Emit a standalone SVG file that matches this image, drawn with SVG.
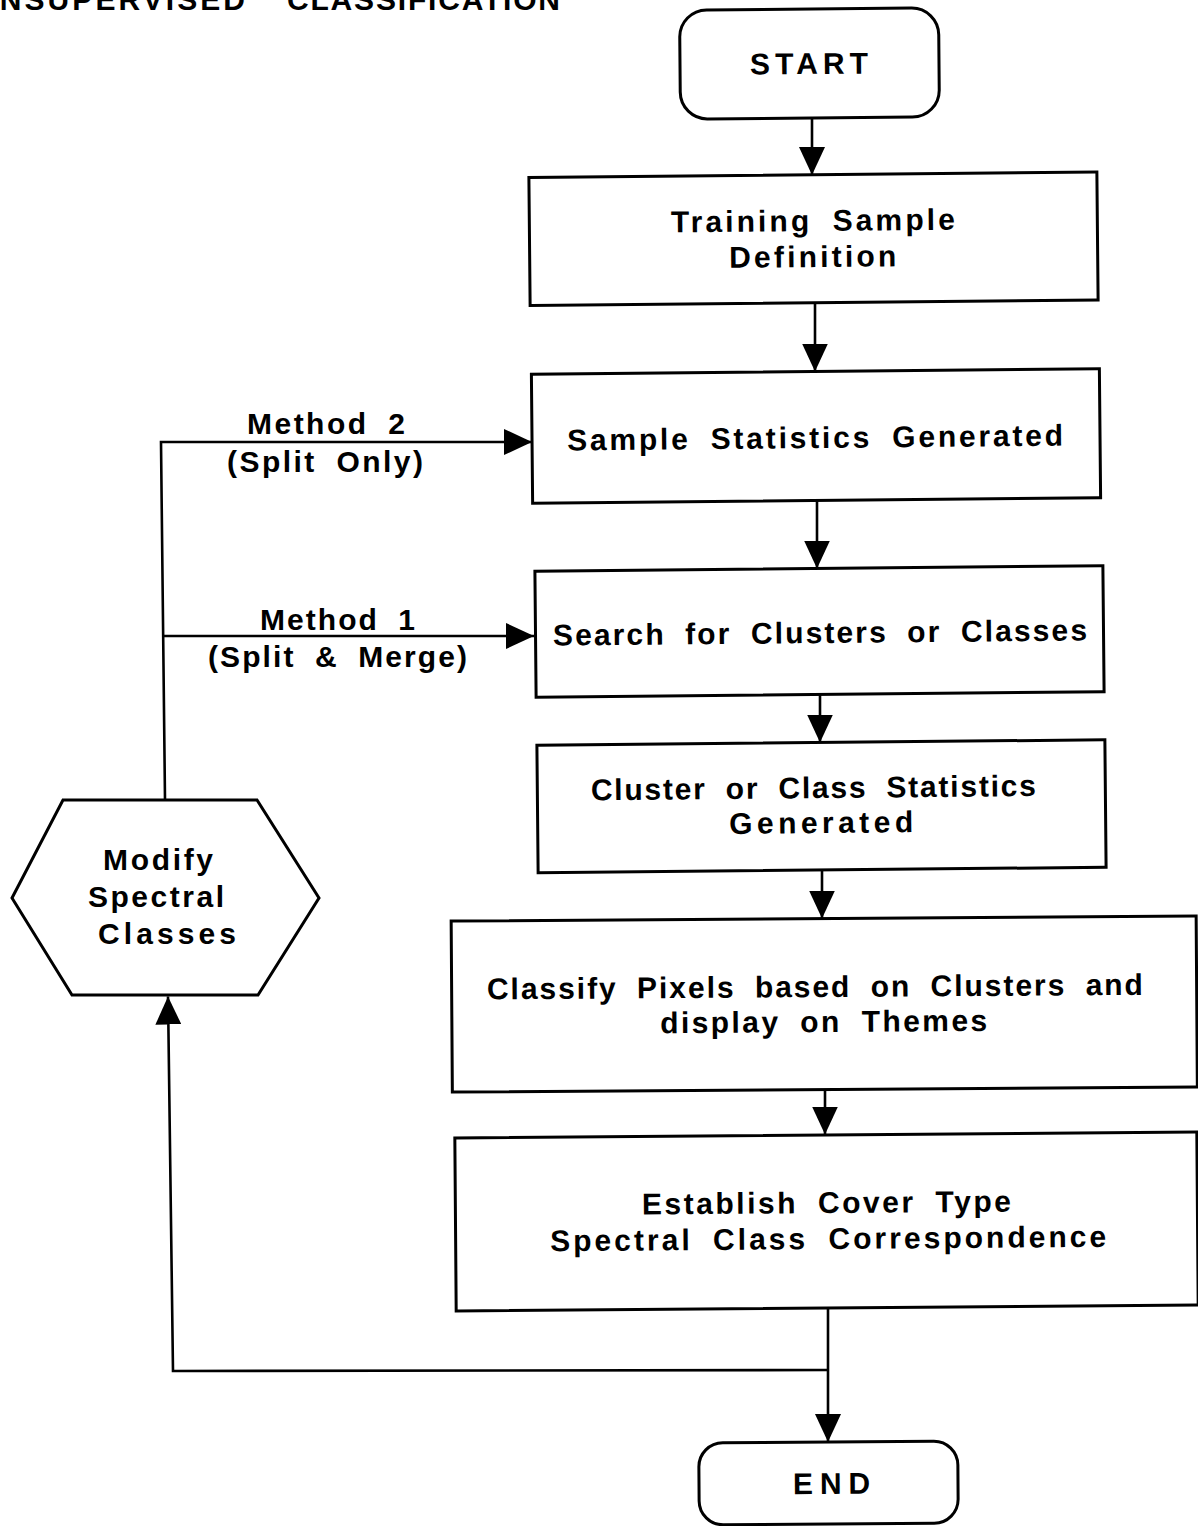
<svg xmlns="http://www.w3.org/2000/svg" width="1198" height="1526" viewBox="0 0 1198 1526">
  <style>
    .box { fill: #fff; stroke: #000; stroke-width: 3; }
    .wire { fill: none; stroke: #000; stroke-width: 2.6; stroke-linejoin: miter; }
    text { font-family: "Liberation Sans", Arial, Helvetica, sans-serif; font-weight: bold; font-size: 30px; fill: #000; word-spacing: 9px; }
  </style>
  <defs>
    <marker id="arrow" markerUnits="userSpaceOnUse" markerWidth="28" markerHeight="26" refX="28" refY="13" orient="auto" viewBox="0 0 28 26">
      <path d="M0,0 L28,13 L0,26 Z" fill="#000"/>
    </marker>
  </defs>

  <rect width="1198" height="1526" fill="#fff"/>

  <!-- page heading, running off the top edge -->
  <g id="heading">
    <text x="-25" y="10" textLength="270" lengthAdjust="spacing">UNSUPERVISED</text>
    <text x="287" y="10" textLength="273" lengthAdjust="spacing">CLASSIFICATION</text>
  </g>

  <!-- connectors -->
  <g id="connectors" class="wire">
    <path d="M812,118 L812,175" marker-end="url(#arrow)"/>
    <path d="M815,302 L815,371.5" marker-end="url(#arrow)"/>
    <path d="M817,499 L817,568.5" marker-end="url(#arrow)"/>
    <path d="M820,694 L820,742.5" marker-end="url(#arrow)"/>
    <path d="M822,869 L822,918.5" marker-end="url(#arrow)"/>
    <path d="M825,1089 L825,1134.5" marker-end="url(#arrow)"/>
    <path d="M828,1307 L828,1442" marker-end="url(#arrow)"/>
    <!-- feedback loop back to the hexagon -->
    <path d="M828,1370 L173,1371 L168,996.5" marker-end="url(#arrow)"/>
    <!-- Method 2 branch -->
    <path d="M165,800 L161,442 L532,442" marker-end="url(#arrow)"/>
    <!-- Method 1 branch -->
    <path d="M163,636 L534,636" marker-end="url(#arrow)"/>
  </g>

  <!-- labels on the method branches -->
  <g id="method-labels">
    <text x="247" y="434" textLength="158" lengthAdjust="spacing">Method 2</text>
    <text x="227" y="472" textLength="196" lengthAdjust="spacing">(Split Only)</text>
    <text x="260" y="630" textLength="155" lengthAdjust="spacing">Method 1</text>
    <text x="208" y="667" textLength="259" lengthAdjust="spacing">(Split &amp; Merge)</text>
  </g>

  <g id="start" transform="rotate(-0.5 809.5 63.5)">
    <rect class="box" x="680" y="9" width="259" height="109" rx="27"/>
    <text x="750" y="74" textLength="118" lengthAdjust="spacing">START</text>
  </g>

  <g id="training-sample" transform="rotate(-0.55 813.5 238.75)">
    <rect class="box" x="529.5" y="174.75" width="568" height="128"/>
    <text x="671" y="231" textLength="284" lengthAdjust="spacing">Training Sample</text>
    <text x="729" y="267" textLength="167" lengthAdjust="spacing">Definition</text>
  </g>

  <g id="sample-statistics" transform="rotate(-0.55 816 435.75)">
    <rect class="box" x="532" y="371.5" width="568" height="129"/>
    <text x="567" y="448" textLength="496" lengthAdjust="spacing">Sample Statistics Generated</text>
  </g>

  <g id="cluster-search" transform="rotate(-0.55 819.5 631.5)">
    <rect class="box" x="535.5" y="568.5" width="568" height="126"/>
    <text x="553" y="643" textLength="534" lengthAdjust="spacing">Search for Clusters or Classes</text>
  </g>

  <g id="cluster-statistics" transform="rotate(-0.55 821.5 806.25)">
    <rect class="box" x="537.5" y="742.5" width="568" height="127.5"/>
    <text x="591" y="798" textLength="445" lengthAdjust="spacing">Cluster or Class Statistics</text>
    <text x="729" y="833" textLength="184" lengthAdjust="spacing">Generated</text>
  </g>

  <g id="classify-pixels" transform="rotate(-0.4 824.25 1004)">
    <rect class="box" x="451.75" y="918.5" width="745" height="171"/>
    <text x="487" y="997" textLength="656" lengthAdjust="spacing">Classify Pixels based on Clusters and</text>
    <text x="660" y="1032" textLength="327" lengthAdjust="spacing">display on Themes</text>
  </g>

  <g id="cover-type" transform="rotate(-0.45 826.5 1221.5)">
    <rect class="box" x="455.5" y="1135" width="742" height="173"/>
    <text x="642" y="1213" textLength="369" lengthAdjust="spacing">Establish Cover Type</text>
    <text x="550" y="1249" textLength="556" lengthAdjust="spacing">Spectral Class Correspondence</text>
  </g>

  <g id="end" transform="rotate(-0.4 828.5 1483)">
    <rect class="box" x="699" y="1442" width="259" height="82" rx="24"/>
    <text x="793" y="1494" textLength="77" lengthAdjust="spacing">END</text>
  </g>

  <g id="modify-classes">
    <polygon class="box" points="63,800 257,800 319,898 258,995 72,995 12,898"/>
    <text x="103" y="870" textLength="110" lengthAdjust="spacing">Modify</text>
    <text x="88" y="907" textLength="136" lengthAdjust="spacing">Spectral</text>
    <text x="98" y="944" textLength="138" lengthAdjust="spacing">Classes</text>
  </g>
</svg>
